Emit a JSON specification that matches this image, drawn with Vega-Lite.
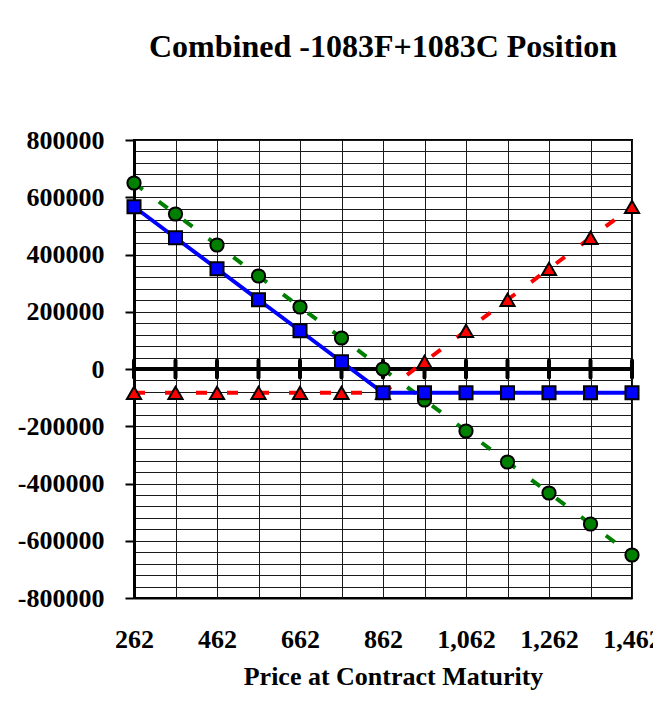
{
  "$schema": "https://vega.github.io/schema/vega-lite/v6.json",
  "width": 498,
  "height": 458,
  "autosize": {"type": "none"},
  "padding": {"left": 134, "top": 140, "right": 21, "bottom": 119},
  "background": "white",
  "title": {
    "text": "Combined -1083F+1083C Position",
    "font": "Liberation Serif",
    "fontSize": 32,
    "fontWeight": "bold",
    "color": "black",
    "anchor": "middle",
    "frame": "group",
    "offset": 63
  },
  "config": {
    "view": {"stroke": "black", "strokeWidth": 2},
    "axis": {
      "labelFont": "Liberation Serif",
      "labelFontWeight": "bold",
      "labelFontSize": 26,
      "labelColor": "black",
      "titleFont": "Liberation Serif",
      "titleFontWeight": "bold",
      "titleFontSize": 26,
      "titleColor": "black",
      "gridColor": "#1a1a1a",
      "gridWidth": 1,
      "gridOpacity": 1,
      "labelFlush": false,
      "labelOverlap": false
    }
  },
  "data": {
    "values": [
      {"price": 262, "futures": 649800, "call": -83000, "combined": 566800},
      {"price": 362, "futures": 541500, "call": -83000, "combined": 458500},
      {"price": 462, "futures": 433200, "call": -83000, "combined": 350200},
      {"price": 562, "futures": 324900, "call": -83000, "combined": 241900},
      {"price": 662, "futures": 216600, "call": -83000, "combined": 133600},
      {"price": 762, "futures": 108300, "call": -83000, "combined": 25300},
      {"price": 862, "futures": 0, "call": -83000, "combined": -83000},
      {"price": 962, "futures": -108300, "call": 25300, "combined": -83000},
      {"price": 1062, "futures": -216600, "call": 133600, "combined": -83000},
      {"price": 1162, "futures": -324900, "call": 241900, "combined": -83000},
      {"price": 1262, "futures": -433200, "call": 350200, "combined": -83000},
      {"price": 1362, "futures": -541500, "call": 458500, "combined": -83000},
      {"price": 1462, "futures": -649800, "call": 566800, "combined": -83000}
    ]
  },
  "encoding": {
    "x": {
      "field": "price",
      "type": "quantitative",
      "scale": {"domain": [262, 1462], "nice": false, "zero": false},
      "axis": {
        "values": [262, 362, 462, 562, 662, 762, 862, 962, 1062, 1162, 1262, 1362, 1462],
        "tickCount": 100,
        "labelExpr": "(datum.value - 262) % 200 === 0 ? format(datum.value, ',') : ''",
        "labelOverlap": false,
        "grid": true,
        "ticks": false,
        "domain": true,
        "domainColor": "black",
        "domainWidth": 2,
        "labelPadding": 28,
        "title": "Price at Contract Maturity",
        "titlePadding": 11,
        "titleX": 259
      }
    }
  },
  "layer": [
    {
      "mark": {"type": "rule", "color": "black", "strokeWidth": 4},
      "encoding": {
        "x": null,
        "y": {
          "datum": 0,
          "type": "quantitative",
          "scale": {"domain": [-800000, 800000], "nice": false, "zero": false},
          "axis": {
            "values": [-800000, -760000, -720000, -680000, -640000, -600000, -560000, -520000, -480000, -440000, -400000, -360000, -320000, -280000, -240000, -200000, -160000, -120000, -80000, -40000, 0, 40000, 80000, 120000, 160000, 200000, 240000, 280000, 320000, 360000, 400000, 440000, 480000, 520000, 560000, 600000, 640000, 680000, 720000, 760000, 800000],
            "tickCount": 100,
            "labelExpr": "datum.value % 200000 === 0 ? '' + datum.value : ''",
            "labelOverlap": false,
            "grid": true,
            "tickColor": "black",
            "tickWidth": 2,
            "tickSize": 9,
            "tickOpacity": {"condition": {"test": "datum.value % 200000 === 0", "value": 1}, "value": 0},
            "domainColor": "black",
            "domainWidth": 3,
            "labelPadding": 21,
            "title": null
          }
        }
      }
    },
    {
      "mark": {"type": "rule", "color": "black", "strokeWidth": 4, "strokeCap": "round"},
      "encoding": {
        "y": {"datum": -30000, "type": "quantitative"},
        "y2": {"datum": 30000}
      }
    },
    {
      "mark": {"type": "line", "color": "#008000", "strokeWidth": 4, "strokeDash": [11, 20]},
      "encoding": {"y": {"field": "futures", "type": "quantitative"}}
    },
    {
      "mark": {"type": "point", "shape": "circle", "filled": true, "fill": "#008000", "stroke": "black", "strokeWidth": 2, "size": 175, "opacity": 1},
      "encoding": {"y": {"field": "futures", "type": "quantitative"}}
    },
    {
      "mark": {"type": "line", "color": "#FF0000", "strokeWidth": 4, "strokeDash": [11, 20]},
      "encoding": {"y": {"field": "call", "type": "quantitative"}}
    },
    {
      "mark": {"type": "point", "shape": "triangle-up", "filled": true, "fill": "#FF0000", "stroke": "black", "strokeWidth": 2, "size": 200, "opacity": 1},
      "encoding": {"y": {"field": "call", "type": "quantitative"}}
    },
    {
      "mark": {"type": "line", "color": "#0000FF", "strokeWidth": 4},
      "encoding": {"y": {"field": "combined", "type": "quantitative"}}
    },
    {
      "mark": {"type": "point", "shape": "square", "filled": true, "fill": "#0000FF", "stroke": "black", "strokeWidth": 2, "size": 170, "opacity": 1},
      "encoding": {"y": {"field": "combined", "type": "quantitative"}}
    }
  ]
}
